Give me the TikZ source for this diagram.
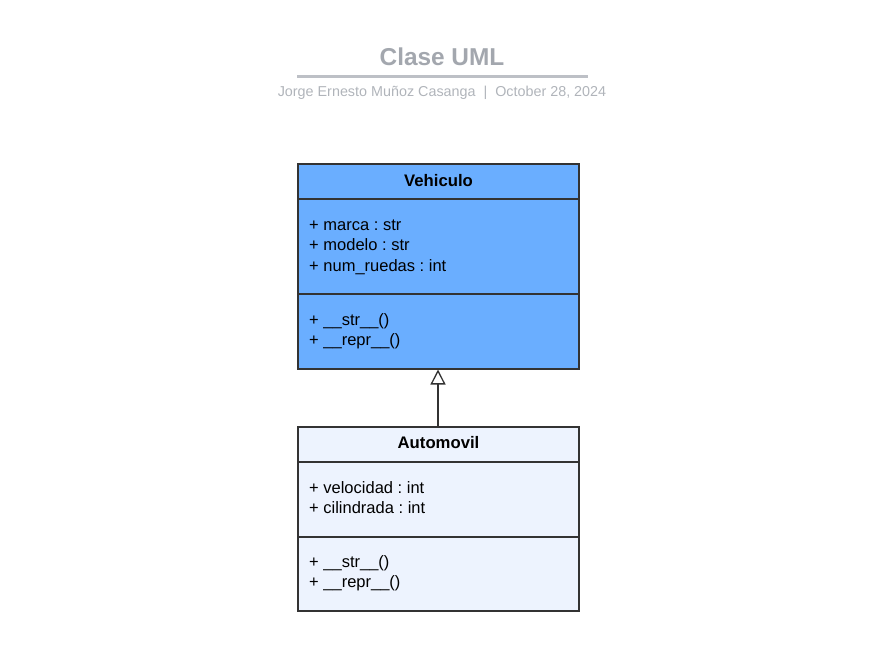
\documentclass[tikz,border=0pt]{standalone}
\usepackage{fontspec}
\setmainfont{Liberation Sans}
\frenchspacing
\usetikzlibrary{arrows.meta}
\definecolor{titlegray}{HTML}{A3A7AE}
\definecolor{subgray}{HTML}{B0B4BA}
\definecolor{rulegray}{HTML}{BDC0C6}
\definecolor{boxline}{HTML}{333333}
\definecolor{parentfill}{HTML}{6AAEFF}
\definecolor{childfill}{HTML}{EDF3FE}
\tikzset{
  classbox/.style={draw=boxline, line width=1.3pt},
  divider/.style={draw=boxline, line width=1.3pt},
  clsname/.style={anchor=base, inner sep=0pt, font=\fontsize{16.7}{19}\selectfont\bfseries},
  member/.style={anchor=base west, inner sep=0pt, font=\fontsize{16.5}{19}\selectfont},
  inherit/.style={draw=boxline, line width=1.3pt, -{Triangle[open, width=15pt, length=15pt]}},
}
\begin{document}
\begin{tikzpicture}[x=1pt, y=-1pt]
\useasboundingbox (0,0) rectangle (877,649);
% title
\node[anchor=base, inner sep=0pt, text=titlegray, font=\fontsize{24.4}{28}\selectfont\bfseries] (title) at (442,65.5) {Clase UML};
\draw[rulegray, line width=2.2pt] (297,76.5) -- (588,76.5);
\node[anchor=base, inner sep=0pt, text=subgray, font=\fontsize{14.35}{17}\selectfont] (sub) at (442,96.5) {Jorge Ernesto Muñoz Casanga~~|~~October 28, 2024};
% Vehiculo
\path[classbox, fill=parentfill] (298,164) rectangle (579,369);
\draw[divider] (298,199) -- (579,199);
\draw[divider] (298,294) -- (579,294);
\node[clsname] (vname) at (438.5,186) {Vehiculo};
\node[member] (va1) at (309,230) {+ marca : str};
\node[member] (va2) at (309,250.5) {+ modelo : str};
\node[member] (va3) at (309,271) {+ num\_ruedas : int};
\node[member] (vm1) at (309,325) {+ \_\_str\_\_()};
\node[member] (vm2) at (309,345.5) {+ \_\_repr\_\_()};
\coordinate (vbot) at (438,369.5);
% Automovil
\path[classbox, fill=childfill] (298,427) rectangle (579,611);
\draw[divider] (298,462) -- (579,462);
\draw[divider] (298,537) -- (579,537);
\node[clsname] (aname) at (438.5,448) {Automovil};
\node[member] (aa1) at (309,493) {+ velocidad : int};
\node[member] (aa2) at (309,513.5) {+ cilindrada : int};
\node[member] (am1) at (309,567) {+ \_\_str\_\_()};
\node[member] (am2) at (309,587.5) {+ \_\_repr\_\_()};
\coordinate (atop) at (438,427);
% inheritance
\draw[inherit] (atop) -- (vbot);
\end{tikzpicture}
\end{document}
